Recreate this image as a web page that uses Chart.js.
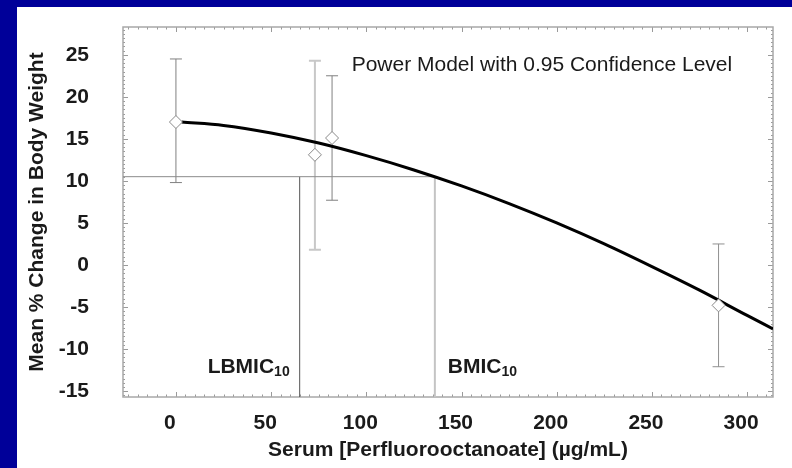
<!DOCTYPE html>
<html>
<head>
<meta charset="utf-8">
<script src="https://cdn.jsdelivr.net/npm/chart.js@4.4.1/dist/chart.umd.min.js"></script>
<style>
  html, body { margin: 0; padding: 0; background: #000099; }
  #wrap { width: 792px; height: 468px; }
</style>
</head>
<body>
<div id="wrap"><canvas id="bwChart" width="792" height="468"></canvas></div>
<script>
// Observed group means (serum PFOA vs mean % change in body weight)
const serumDose = [0, 73, 82, 285];
const meanChange = [17.0, 13.1, 15.1, -4.8];
const errLow = [9.8, 1.8, 7.7, -12.1];
const errHigh = [24.5, 24.3, 22.5, 2.5];
const errColors = ['#808080', '#c8c8c8', '#808080', '#909090'];

// Fitted power model curve
const fitDose = [3, 25, 50, 75, 100, 125, 150, 175, 200, 225, 250, 275, 300, 313.6];
const fitChange = [17.0, 16.6, 15.7, 14.5, 13.0, 11.3, 9.4, 7.3, 5.0, 2.5, -0.2, -3.0, -6.0, -7.6];

// Benchmark values
const bmr = 10.5;
const bmic10 = 136;
const lbmic10 = 65;

// Axis ranges and tick labels
const xMin = -27.8, xMax = 313.6;
const yMin = -15.7, yMax = 28.3;
const xTicks = [0, 50, 100, 150, 200, 250, 300];
const yTicks = [-15, -10, -5, 0, 5, 10, 15, 20, 25];

const pts = serumDose.map((x, i) => ({x: x, y: meanChange[i]}));
const fit = fitDose.map((x, i) => ({x: x, y: fitChange[i]}));

const FONT = '"Liberation Sans", Arial, sans-serif';

// background, frame, inward ticks, error bars
const decor = {
    id: 'decor',
    beforeDraw(chart) {
        const ctx = chart.ctx;
        ctx.save();
        ctx.fillStyle = '#000099';
        ctx.fillRect(0, 0, chart.width, chart.height);
        ctx.fillStyle = '#ffffff';
        ctx.fillRect(17, 7, chart.width - 17, chart.height - 7);
        ctx.restore();
    },
    beforeDatasetsDraw(chart) {
        const ctx = chart.ctx;
        const a = chart.chartArea;
        const xs = chart.scales.x, ys = chart.scales.y;
        ctx.save();
        ctx.strokeStyle = '#9a9a9a';
        ctx.lineWidth = 1;
        ctx.beginPath();
        // x ticks every 5, major every 50
        for (let v = -25; v <= xMax; v += 5) {
            const px = Math.round(xs.getPixelForValue(v)) + 0.5;
            const len = v % 50 === 0 ? 5 : 2.5;
            ctx.moveTo(px, a.bottom); ctx.lineTo(px, a.bottom - len);
            ctx.moveTo(px, a.top); ctx.lineTo(px, a.top + len);
        }
        // y ticks every 0.5, major every 5
        for (let v = -15.5; v <= yMax; v += 0.5) {
            const py = Math.round(ys.getPixelForValue(v)) + 0.5;
            const len = v % 5 === 0 ? 5 : 2;
            ctx.moveTo(a.left, py); ctx.lineTo(a.left + len, py);
            ctx.moveTo(a.right, py); ctx.lineTo(a.right - len, py);
        }
        ctx.stroke();
        ctx.strokeStyle = '#a8a8a8';
        ctx.lineWidth = 1.5;
        ctx.strokeRect(a.left, a.top, a.right - a.left, a.bottom - a.top);

        // error bars
        serumDose.forEach((d, i) => {
            const px = xs.getPixelForValue(d);
            const top = ys.getPixelForValue(errHigh[i]);
            const bot = ys.getPixelForValue(errLow[i]);
            ctx.strokeStyle = errColors[i];
            ctx.lineWidth = i === 1 ? 2 : 1;
            ctx.beginPath();
            ctx.moveTo(px, top); ctx.lineTo(px, bot);
            ctx.moveTo(px - 6, top); ctx.lineTo(px + 6, top);
            ctx.moveTo(px - 6, bot); ctx.lineTo(px + 6, bot);
            ctx.stroke();
        });
        ctx.restore();
    },
    afterDraw(chart) {
        const ctx = chart.ctx;
        const xs = chart.scales.x, ys = chart.scales.y;
        ctx.save();
        ctx.fillStyle = '#1a1a1a';
        ctx.textBaseline = 'middle';
        ctx.font = '21px ' + FONT;
        ctx.textAlign = 'left';
        ctx.fillText('Power Model with 0.95 Confidence Level', xs.getPixelForValue(92.3), ys.getPixelForValue(23.8));

        const labelY = ys.getPixelForValue(-12.2);
        const sub = (txt, x, align) => {
            ctx.font = 'bold 21px ' + FONT;
            const w1 = ctx.measureText(txt).width;
            ctx.font = 'bold 14px ' + FONT;
            const w2 = ctx.measureText('10').width;
            const x0 = align === 'right' ? x - w1 - w2 : x;
            ctx.textAlign = 'left';
            ctx.font = 'bold 21px ' + FONT;
            ctx.fillText(txt, x0, labelY);
            ctx.font = 'bold 14px ' + FONT;
            ctx.fillText('10', x0 + w1, labelY + 5);
        };
        sub('LBMIC', xs.getPixelForValue(lbmic10) - 10, 'right');
        sub('BMIC', xs.getPixelForValue(bmic10) + 13, 'left');
        ctx.restore();
    }
};

const ctx = document.getElementById('bwChart').getContext('2d');
const myChart = new Chart(ctx, {
    type: 'scatter',
    data: {
        datasets: [
            {
                label: 'Observed',
                data: pts,
                pointStyle: 'rectRot',
                pointRadius: 6.5,
                pointBackgroundColor: '#ffffff',
                pointBorderColor: '#8a8a8a',
                pointBorderWidth: 1,
                showLine: false
            },
            {
                label: 'Power model',
                data: fit,
                showLine: true,
                borderColor: '#000000',
                borderWidth: 3,
                pointRadius: 0,
                cubicInterpolationMode: 'monotone'
            },
            {
                label: 'BMR',
                data: [{x: xMin, y: bmr}, {x: bmic10, y: bmr}],
                showLine: true,
                borderColor: '#8c8c8c',
                borderWidth: 1,
                pointRadius: 0
            },
            {
                label: 'LBMIC10',
                data: [{x: lbmic10, y: yMin}, {x: lbmic10, y: bmr}],
                showLine: true,
                borderColor: '#555555',
                borderWidth: 1,
                pointRadius: 0
            },
            {
                label: 'BMIC10',
                data: [{x: bmic10, y: yMin}, {x: bmic10, y: bmr}],
                showLine: true,
                borderColor: '#c4c4c4',
                borderWidth: 2,
                pointRadius: 0
            }
        ]
    },
    options: {
        responsive: false,
        animation: false,
        layout: { padding: { left: 17, top: 27, right: 19, bottom: 0 } },
        plugins: {
            legend: { display: false },
            tooltip: { enabled: false }
        },
        scales: {
            x: {
                type: 'linear',
                min: xMin,
                max: xMax,
                afterBuildTicks: s => { s.ticks = xTicks.map(v => ({value: v})); },
                afterFit: s => { s.height = 71; s.paddingLeft = 0; s.paddingRight = 0; },
                grid: { display: false },
                border: { display: false },
                ticks: {
                    color: '#1a1a1a',
                    padding: 6,
                    labelOffset: -6,
                    maxRotation: 0,
                    font: { family: FONT, size: 21, weight: 'bold' }
                },
                title: {
                    display: true,
                    text: 'Serum [Perfluorooctanoate] (µg/mL)',
                    color: '#1a1a1a',
                    padding: { top: 0, bottom: 5 },
                    font: { family: FONT, size: 21, weight: 'bold' }
                }
            },
            y: {
                type: 'linear',
                min: yMin,
                max: yMax,
                afterBuildTicks: s => { s.ticks = yTicks.map(v => ({value: v})); },
                afterFit: s => { s.width = 106; s.paddingTop = 0; s.paddingBottom = 0; },
                grid: { display: false },
                border: { display: false },
                ticks: {
                    color: '#1a1a1a',
                    padding: 26,
                    font: { family: FONT, size: 21, weight: 'bold' }
                },
                title: {
                    display: true,
                    text: 'Mean % Change in Body Weight',
                    color: '#1a1a1a',
                    padding: { top: 8, bottom: 0 },
                    font: { family: FONT, size: 21, weight: 'bold' }
                }
            }
        }
    },
    plugins: [decor]
});
</script>
</body>
</html>
